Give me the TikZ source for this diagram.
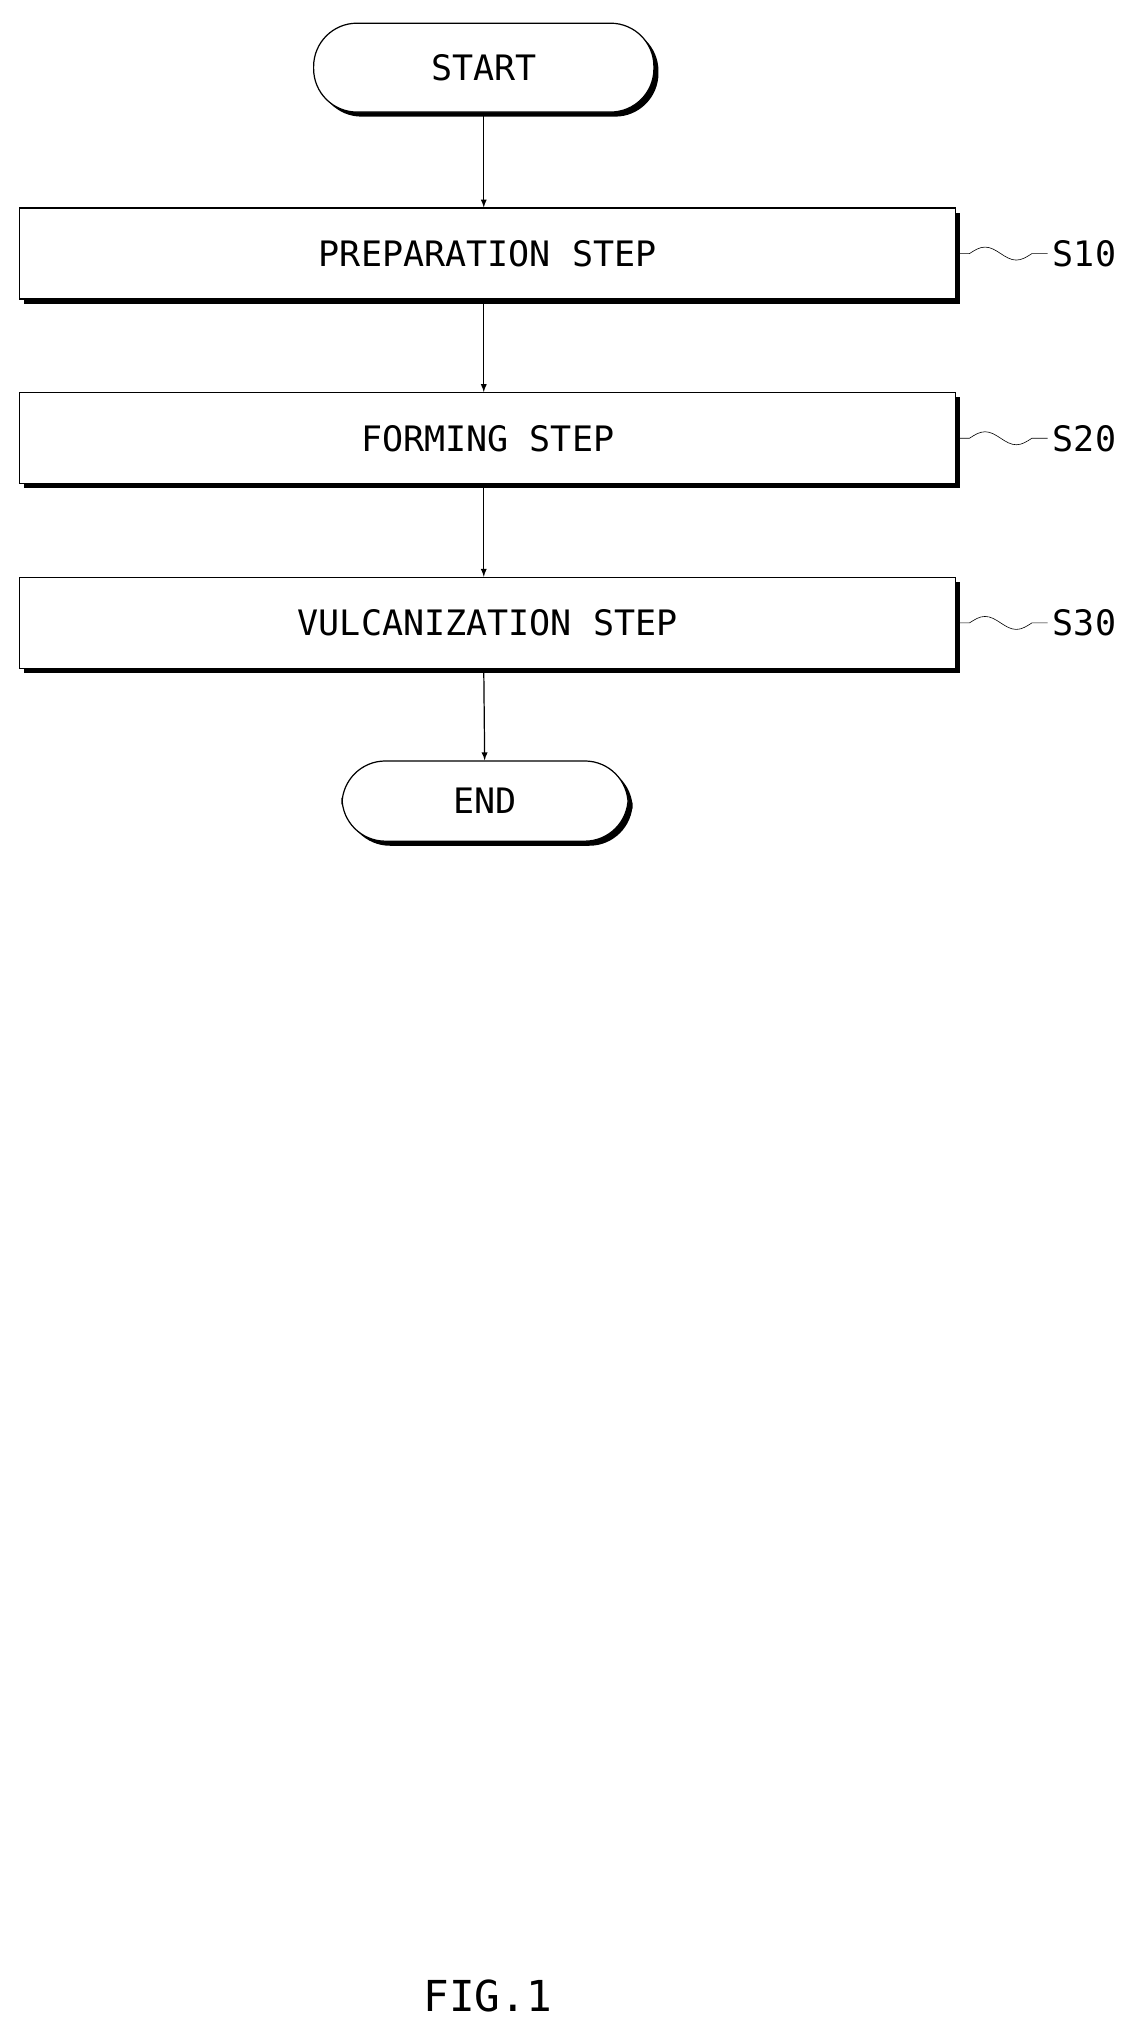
\documentclass[tikz,border=0pt]{standalone}
\usepackage{fontspec}
\setmainfont{DejaVu Sans Mono}
\usetikzlibrary{positioning,shadows}
\tikzset{
  shade box/.style={draw,thick,fill=white,font=\fontsize{23}{27}\selectfont,
    drop shadow={shadow xshift=3pt,shadow yshift=-3pt,fill=black,opacity=1}},
  stepbox/.style={shade box,minimum width=21.6cm,minimum height=2.1cm},
  terminal/.style={shade box,rounded corners=1cm,minimum height=2.05cm},
  flow/.style={->,thick,>=latex},
  steplabel/.style={anchor=west,font=\fontsize{23}{27}\selectfont}
}
\begin{document}
\begin{tikzpicture}[x=0.03cm,y=-0.03cm]
  \useasboundingbox (0,0) rectangle (876,1571);
  \node[terminal,minimum width=7.85cm] (start) at (372,52) {START};
  \node[stepbox] (prep) at (375,195) {PREPARATION STEP};
  \node[stepbox] (form) at (375,337) {FORMING STEP};
  \node[stepbox] (vulc) at (375,479) {VULCANIZATION STEP};
  \node[terminal,minimum width=6.6cm,minimum height=1.85cm] (end) at (373,616) {END};

  \draw[flow] (start) -- (start|-prep.north);
  \draw[flow] (prep.south-|start) -- (start|-form.north);
  \draw[flow] (form.south-|start) -- (start|-vulc.north);
  \draw[flow] (vulc.south-|start) -- (end);

  % step numbers
  \foreach \b/\s in {prep/S10,form/S20,vulc/S30}{
    \node[steplabel] (lbl\s) at ([xshift=2.1cm]\b.east) {\s};
    \draw[thin] (\b.east) -- ++(10,0) sin ++(12,-5) cos ++(12,5) sin ++(12,5) cos ++(12,-5) -- (lbl\s.west);
  }

  \node[font=\fontsize{28}{32}\selectfont] (fig) at (375,1535) {FIG.1};
\end{tikzpicture}
\end{document}
